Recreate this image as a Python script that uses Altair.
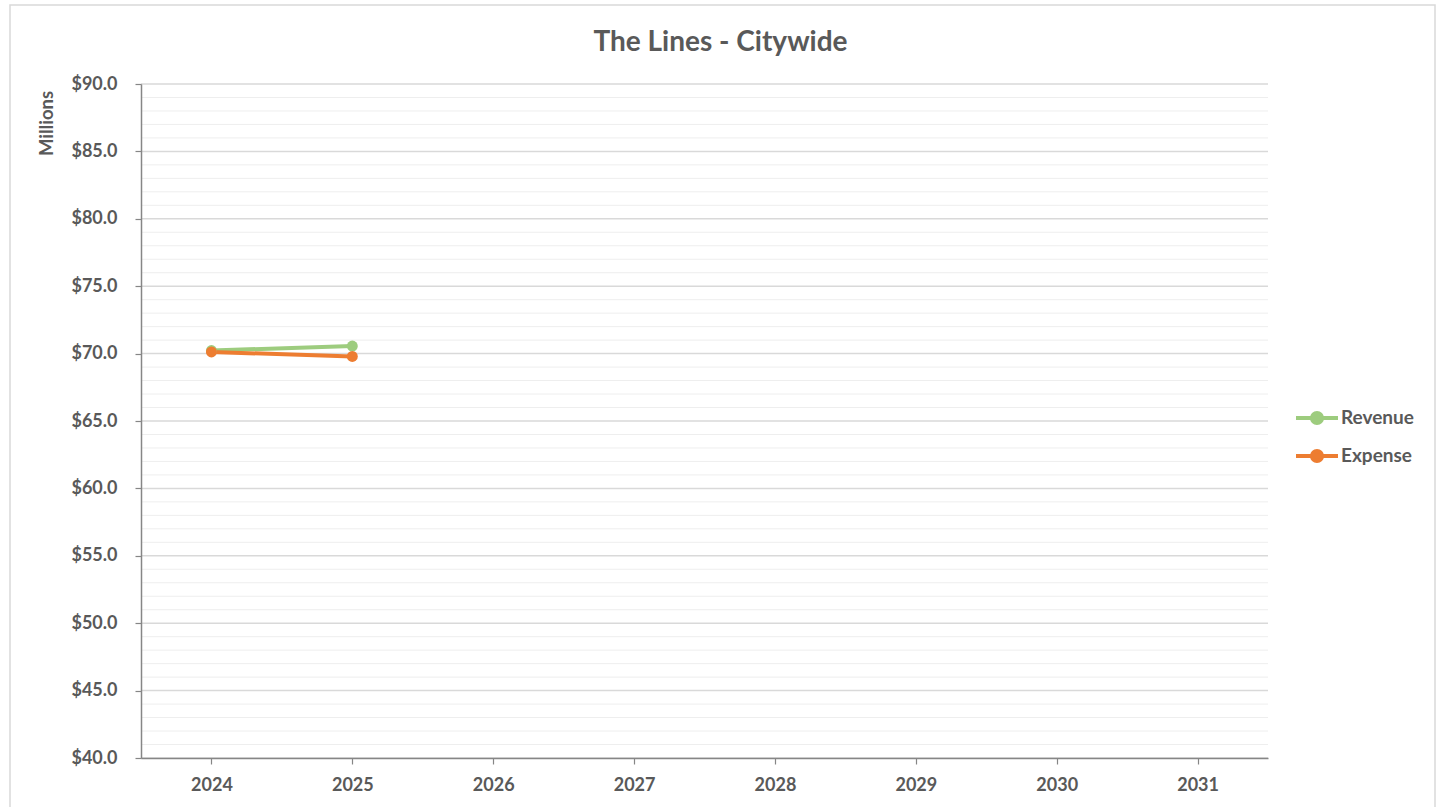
import altair as alt
import pandas as pd

years = ["2024", "2025", "2026", "2027", "2028", "2029", "2030", "2031"]
series_names = ["Revenue", "Expense"]
revenue_years = ["2024", "2025"]
revenue_values = [70.23, 70.56]
expense_years = ["2024", "2025"]
expense_values = [70.12, 69.79]
major_ticks = [40, 45, 50, 55, 60, 65, 70, 75, 80, 85, 90]
minor_ticks = [v for v in range(41, 90) if v % 5 != 0]
series_colors = ["#9dcc7e", "#ed7d31"]

df = pd.DataFrame({
    "Year": revenue_years + expense_years,
    "Value": revenue_values + expense_values,
    "Series": ["Revenue"] * len(revenue_years) + ["Expense"] * len(expense_years),
})
df["order"] = df["Series"].map({"Revenue": 0, "Expense": 1})

FONT = "Lato"
GRAY = "#595959"
AXIS_GRAY = "#868686"

yscale = alt.Scale(domain=[40, 90], nice=False, zero=False)
xscale = alt.Scale(type="point", domain=years, padding=0.5)

y_axis = alt.Axis(
    title="Millions",
    titleFont=FONT,
    titleFontSize=18.5,
    titleFontWeight="bold",
    titleColor=GRAY,
    titleAngle=-90,
    titleX=-95,
    titleY=39,
    titleAlign="center",
    titleBaseline="middle",
    values=major_ticks,
    format="$.1f",
    labelFont=FONT,
    labelFontSize=18,
    labelFontWeight="bold",
    labelColor=GRAY,
    labelPadding=18,
    domainColor=AXIS_GRAY,
    domainWidth=1.5,
    tickColor=AXIS_GRAY,
    tickSize=6,
    tickWidth=1.2,
    grid=False,
    zindex=1,
)

legend_path = "M-1.5,0L1.5,0M-0.36,0A0.36,0.36,0,1,0,0.36,0A0.36,0.36,0,1,0,-0.36,0Z"

color = alt.Color(
    "Series:N",
    scale=alt.Scale(domain=series_names, range=series_colors),
    sort=series_names,
    legend=alt.Legend(
        title=None,
        orient="none",
        legendX=1160,
        legendY=318,
        symbolType=legend_path,
        symbolSize=784,
        symbolStrokeWidth=4,
        labelOffset=8,
        rowPadding=8,
        padding=0,
        labelFont=FONT,
        labelFontSize=19,
        labelFontWeight="bold",
        labelColor=GRAY,
    ),
)

minor = alt.Chart(pd.DataFrame({"v": minor_ticks})).mark_rule(
    color="#eeeeee", strokeWidth=1
).encode(y=alt.Y("v:Q", scale=yscale, axis=y_axis))

major = alt.Chart(pd.DataFrame({"v": major_ticks})).mark_rule(
    color="#d9d9d9", strokeWidth=1.5
).encode(y=alt.Y("v:Q", scale=yscale, axis=y_axis))

base = alt.Chart(df).encode(
    x=alt.X(
        "Year:O",
        scale=xscale,
        sort=years,
        axis=alt.Axis(
            title=None,
            grid=False,
            labelFont=FONT,
            labelFontSize=18,
            labelFontWeight="bold",
            labelColor=GRAY,
            labelPadding=12,
            labelAngle=0,
            domainColor=AXIS_GRAY,
            domainWidth=1.5,
            tickColor=AXIS_GRAY,
            tickSize=6,
            tickWidth=1.2,
            zindex=1,
        ),
    ),
    y=alt.Y("Value:Q", scale=yscale, axis=y_axis),
    color=color,
    order=alt.Order("order:Q"),
)

lines = base.mark_line(strokeWidth=4)
points = base.mark_circle(size=120, opacity=1)

frame = alt.Chart(pd.DataFrame({"a": [0]})).mark_rect(
    fill=None, stroke="#d9d9d9", strokeWidth=1.5, clip=False
).encode(
    x=alt.value(-131), x2=alt.value(1294), y=alt.value(-79), y2=alt.value(740)
)

chart = alt.layer(minor, major, lines, points, frame).properties(
    width=1127,
    height=674,
    title=alt.TitleParams(
        "The Lines - Citywide",
        font=FONT,
        fontSize=28,
        fontWeight="bold",
        color=GRAY,
        anchor="middle",
        dx=16,
        dy=107,
        offset=32,
        baseline="alphabetic",
    ),
    autosize=alt.AutoSizeParams(type="none"),
    padding={"left": 141, "top": 84, "right": 171, "bottom": 49},
).configure(background="white").configure_view(stroke=None)

chart.save("out.html", embed_options={"renderer": "svg", "actions": False})
